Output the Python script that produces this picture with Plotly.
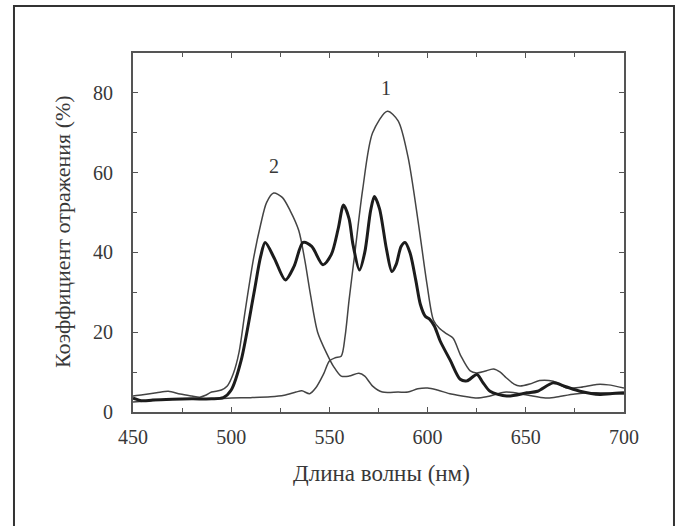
import plotly.graph_objects as go

# Wavelength (nm) / reflectance (%)
wl_curve1 = [450, 460, 470, 480, 490, 500, 510, 520, 527, 533, 536, 540, 543, 547, 550, 553, 556, 558, 560, 563,
             567, 572, 579.5, 585, 590, 595.4, 599.7, 603, 606, 610, 613, 617, 621.7, 625, 629, 633.5, 637, 640,
             644, 647, 652, 657, 664, 671, 678, 686, 692, 700]
r_curve1 = [2.5, 2.9, 3.2, 3.3, 3.3, 3.5, 3.6, 3.8, 4.2, 5.0, 5.3, 4.6, 6.0, 9.5, 12.8, 13.6, 14.0, 19.0, 28.0, 40.0,
            56.0, 70.0, 75.4, 73.0, 64.0, 47.0, 32.0, 23.0, 21.0, 19.5, 18.5, 14.0, 10.3, 9.8, 10.2, 10.8, 10.0, 8.6,
            7.0, 6.5, 7.0, 7.9, 7.7, 6.0, 6.2, 6.9, 6.8, 6.0]

wl_curve2 = [450, 455, 462, 468, 474, 480, 484, 487, 490, 495, 498, 501, 504, 507, 511.5, 515, 518, 521.6, 526, 530,
             534.4, 537.5, 540.3, 544, 548.8, 552, 556, 560, 565, 568, 572, 577, 585, 590, 595, 600, 605, 612,
             620, 625, 630, 640, 650, 660, 665, 675, 685, 700]
r_curve2 = [4.0, 4.3, 4.8, 5.2, 4.5, 4.0, 3.7, 4.2, 5.0, 5.5, 6.5, 9.5, 15.0, 25.0, 38.8, 47.0, 52.5, 54.9, 53.8, 50.5,
            45.5, 38.0, 29.6, 20.0, 14.5, 11.5, 9.0, 9.0, 9.7, 9.0, 6.5, 5.0, 5.0, 5.0, 5.8, 6.0, 5.5, 4.5,
            3.8, 3.5, 3.8, 5.0, 4.3, 3.5, 3.7, 4.5, 4.8, 4.5]

wl_total = [450, 455, 460, 470, 480, 490, 496, 500, 505, 511.5, 515, 517.3, 522, 527.6, 532, 536.6, 541, 546.7,
            551, 554.5, 557.2, 560, 562, 565.3, 568, 571, 572.9, 575.5, 579, 581.8, 584, 586.5, 588.5, 591, 594,
            596.3, 598.8, 601, 603.5, 606.4, 611.5, 616.6, 620, 625.1, 628, 631.8, 640.3, 650.5, 656, 664, 670,
            677.6, 687.8, 693, 700]
r_total = [3.5, 2.8, 3.0, 3.2, 3.3, 3.3, 3.6, 5.5, 12.8, 29.6, 39.0, 42.5, 38.5, 33.1, 36.5, 42.5, 41.5, 36.9,
           39.5, 46.0, 51.9, 48.5, 42.0, 35.6, 40.0, 50.5, 54.0, 51.0, 41.0, 35.2, 37.0, 41.5, 42.5, 40.0, 33.0,
           27.0, 24.0, 23.3, 21.5, 17.8, 13.0, 8.2, 7.8, 9.4, 7.5, 5.2, 4.0, 4.8, 5.2, 7.3, 6.4,
           5.2, 4.4, 4.6, 4.8]

x_ticks = [450, 500, 550, 600, 650, 700]
y_ticks = [0, 20, 40, 60, 80]
x_title = "Длина волны (нм)"
y_title = "Коэффициент отражения (%)"
curve_labels = ["1", "2"]
label_x = [579.0, 522.0]
label_y = [81.3, 61.6]

FONT = "Liberation Serif, Times New Roman, serif"
TXT = "#383838"

fig = go.Figure()
fig.add_trace(go.Scatter(x=wl_curve1, y=r_curve1, mode="lines",
                         line=dict(color="#444444", width=1.5, shape="spline", smoothing=0.8)))
fig.add_trace(go.Scatter(x=wl_curve2, y=r_curve2, mode="lines",
                         line=dict(color="#444444", width=1.5, shape="spline", smoothing=0.8)))
fig.add_trace(go.Scatter(x=wl_total, y=r_total, mode="lines",
                         line=dict(color="#1c1c1c", width=3.0, shape="spline", smoothing=0.8)))

for t, lx, ly in zip(curve_labels, label_x, label_y):
    fig.add_annotation(x=lx, y=ly, text=t, showarrow=False, xanchor="center", yanchor="middle",
                       font=dict(family=FONT, size=20, color=TXT))

fig.add_annotation(xref="paper", yref="paper", x=-0.142, y=0.502, text=y_title, textangle=-90,
                   xanchor="center", yanchor="middle",
                   showarrow=False, font=dict(family=FONT, size=22, color=TXT))
fig.add_annotation(xref="paper", yref="paper", x=0.507, y=-0.170, text=x_title,
                   xanchor="center", yanchor="middle",
                   showarrow=False, font=dict(family=FONT, size=23, color=TXT))

# outer frame around the whole figure
fig.add_shape(type="rect", xref="paper", yref="paper", x0=-0.2424, x1=1.1018, y0=-0.40, y1=1.1309,
              line=dict(color="#333333", width=2), fillcolor="rgba(0,0,0,0)")

axis_common = dict(showgrid=False, zeroline=False, showline=True, linecolor="#555555", linewidth=1.8,
                   mirror="allticks", ticks="inside", ticklen=5, tickwidth=1.3, tickcolor="#555555",
                   tickfont=dict(family=FONT, size=20, color=TXT))

fig.update_xaxes(range=[450, 700], tickvals=x_ticks, ticklabelstandoff=6,
                 minor=dict(ticks="inside", ticklen=4, tickwidth=1.3, tickcolor="#555555", dtick=25, tick0=450),
                 **axis_common)
fig.update_yaxes(range=[0, 90], tickvals=y_ticks, ticklabelstandoff=14,
                 minor=dict(ticks="inside", ticklen=4, tickwidth=1.3, tickcolor="#555555", dtick=10, tick0=0),
                 **axis_common)

fig.update_layout(width=676, height=526, margin=dict(l=133, r=52, t=53, b=114),
                  paper_bgcolor="white", plot_bgcolor="white", showlegend=False)

fig.write_html("out.html", config={"displayModeBar": False},
               post_script="document.body.style.margin='0';document.body.style.overflow='hidden';")
